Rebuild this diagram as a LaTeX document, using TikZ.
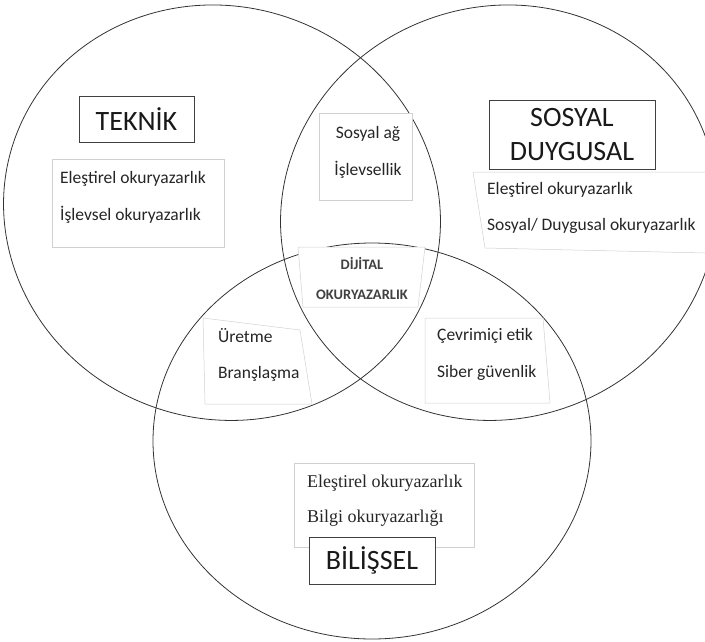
\documentclass[tikz,border=0pt]{standalone}
\usepackage{fontspec}
\setmainfont{Carlito}
\newfontfamily\timesfont{Liberation Serif}

\begin{document}
\begin{tikzpicture}[x=1pt,y=-1pt]
	% Stiller
	\tikzstyle{sirkel}	= [draw=black!80, line width=0.8pt]
	\tikzstyle{baslik}	= [rectangle, draw=black!75, line width=0.8pt, fill=white, inner sep=0pt, font=\fontsize{28}{34}\selectfont, text=black!90]
	\tikzstyle{kutu}	= [draw=black!18, line width=0.5pt, fill=white]
	\tikzstyle{satir}	= [anchor=base west, inner sep=0pt, font=\fontsize{17.5}{20}\selectfont, text=black!85]
	\tikzstyle{orta}	= [anchor=base, inner sep=0pt, font=\fontsize{17.5}{20}\selectfont, text=black!85]
	\tikzstyle{dijital}	= [inner sep=0pt, font=\fontsize{14.5}{16}\selectfont\bfseries, text=black!75]

	\useasboundingbox (0,0) rectangle (705,641);
	\clip (0,0) rectangle (705,641);

	% Daireler
	\draw[sirkel, rotate around={-20:(222,212.7)}] (222,212.7) ellipse [x radius=220, y radius=206];
	\draw[sirkel, rotate around={20:(499,212.7)}] (499,212.7) ellipse [x radius=220, y radius=206];
	\draw[sirkel] (372,441) ellipse [x radius=219, y radius=198];

	% Acik gri kutular
	\draw[kutu] (52,159) rectangle (224,247);
	\draw[kutu] (473,172) -- (706,172) -- (706,253) -- (485,248) -- cycle;
	\draw[kutu] (319,113) rectangle (412,200);
	\draw[kutu] (298,247) -- (425,247) -- (418,307) -- (303,307) -- cycle;
	\draw[kutu] (203,318) -- (300,330) -- (312,404) -- (205,404) -- cycle;
	\draw[kutu] (425,318) -- (543,318) -- (550,403) -- (425,403) -- cycle;
	\draw[kutu] (294,463) rectangle (474,547);

	% Basliklar
	\node[baslik, minimum width=115pt, minimum height=46pt] (teknik) at (136.5,119) {TEKNİK};
	\node[baslik, minimum width=166pt, minimum height=69pt, align=center] (sosyal) at (572,134.5) {SOSYAL\\DUYGUSAL};
	\node[baslik, minimum width=126pt, minimum height=47pt] (bilissel) at (372,560.5) {BİLİŞSEL};

	% Teknik
	\node[satir] (teknik_a) at (60,183) {Eleştirel okuryazarlık};
	\node[satir] (teknik_b) at (60,220) {İşlevsel okuryazarlık};

	% Sosyal duygusal
	\node[satir] (sosyal_a) at (487,194) {Eleştirel okuryazarlık};
	\node[satir] (sosyal_b) at (487,230) {Sosyal/ Duygusal okuryazarlık};

	% Kesisimler
	\node[orta] (kesisim_a) at (368,138) {Sosyal ağ};
	\node[orta] (kesisim_b) at (368,175) {İşlevsellik};
	\node[satir] (uretme_a) at (218,342) {Üretme};
	\node[satir] (uretme_b) at (218,378) {Branşlaşma};
	\node[satir] (etik_a) at (437,340) {Çevrimiçi etik};
	\node[satir] (etik_b) at (437,377) {Siber güvenlik};

	% Orta
	\node[dijital] (dijital_a) at (362,263) {DİJİTAL};
	\node[dijital] (dijital_b) at (362,295) {OKURYAZARLIK};

	% Bilissel
	\node[satir, font=\fontsize{18}{20}\timesfont] (bilissel_a) at (307,487) {Eleştirel okuryazarlık};
	\node[satir, font=\fontsize{18}{20}\timesfont] (bilissel_b) at (307,522) {Bilgi okuryazarlığı};
\end{tikzpicture}
\end{document}
